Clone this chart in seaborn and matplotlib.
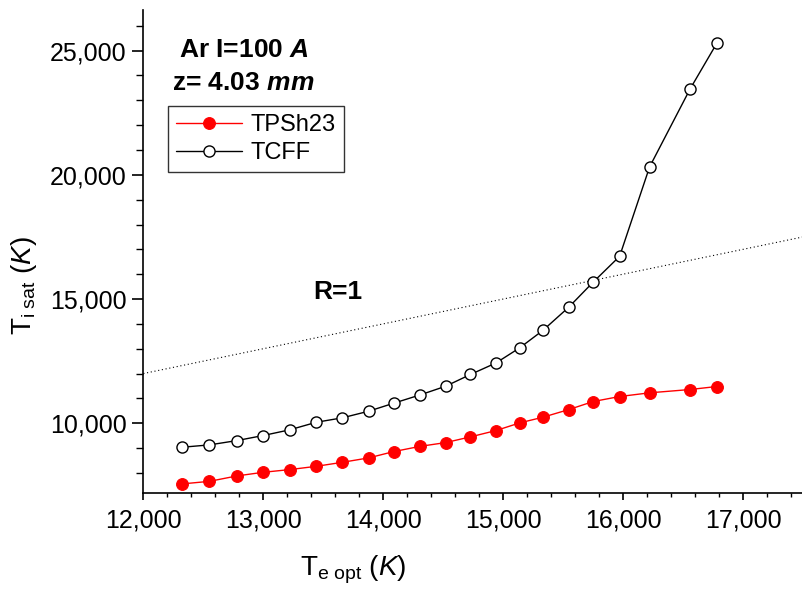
import numpy as np
import pandas as pd
import matplotlib
matplotlib.use("Agg")
import matplotlib.pyplot as plt
import seaborn as sns
from matplotlib.ticker import FuncFormatter, MultipleLocator

# data
t_e_opt = [12320, 12551, 12780, 12997, 13219, 13442, 13659, 13878, 14087, 14310,
           14521, 14727, 14940, 15139, 15331, 15548, 15751, 15971, 16221, 16558, 16781]
t_tpsh23 = [7557, 7662, 7880, 8025, 8134, 8267, 8428, 8605, 8859, 9073,
            9222, 9452, 9706, 10016, 10242, 10552, 10875, 11076, 11225, 11358, 11479]
t_tcff = [9033, 9129, 9303, 9504, 9734, 10040, 10218, 10484, 10806, 11145,
          11491, 11963, 12426, 13039, 13736, 14676, 15683, 16719, 20318, 23450, 25292]
r1_line = [12000, 17500]  # R=1 -> T_i = T_e

sns.set_theme(style="ticks")
plt.rcParams['font.family'] = ['Liberation Sans', 'DejaVu Sans']
plt.rcParams['mathtext.fontset'] = 'custom'
plt.rcParams['mathtext.rm'] = 'Liberation Sans'
plt.rcParams['mathtext.it'] = 'Liberation Sans:italic'
plt.rcParams['mathtext.bf'] = 'Liberation Sans:bold'
plt.rcParams['mathtext.bfit'] = 'Liberation Sans:bold:italic'
for key in ['text.color', 'axes.labelcolor', 'xtick.color', 'ytick.color']:
    plt.rcParams[key] = 'black'

fig = plt.figure(figsize=(8.03, 5.94), dpi=100)
ax = fig.add_axes([0.1785, 0.1695, 0.8215, 0.8135])

# R=1 reference line
sns.lineplot(x=r1_line, y=r1_line, ax=ax, color="black", linewidth=0.8,
             linestyle=(0, (1, 2.4)), legend=False)

sns.lineplot(x=t_e_opt, y=t_tpsh23, ax=ax, color="#ff0000", linewidth=1.0,
             marker="o", markersize=8.5, markerfacecolor="#ff0000",
             markeredgecolor="#ff0000", label="TPSh23")
sns.lineplot(x=t_e_opt, y=t_tcff, ax=ax, color="black", linewidth=1.0,
             marker="o", markersize=8, markerfacecolor="white",
             markeredgecolor="black", markeredgewidth=1.0, label="TCFF")

ax.set_xlim(12000, 17500)
ax.set_ylim(7180, 26630)

fmt = FuncFormatter(lambda v, p: f"{v:,.0f}")
ax.xaxis.set_major_locator(MultipleLocator(1000))
ax.xaxis.set_minor_locator(MultipleLocator(200))
ax.yaxis.set_major_locator(MultipleLocator(5000))
ax.yaxis.set_minor_locator(MultipleLocator(1000))
ax.xaxis.set_major_formatter(fmt)
ax.yaxis.set_major_formatter(fmt)

for side in ["top", "right"]:
    ax.spines[side].set_visible(False)
for side in ["left", "bottom"]:
    ax.spines[side].set_linewidth(1.2)
    ax.spines[side].set_color("black")

ax.tick_params(axis="x", which="major", length=5, width=1.2, labelsize=18, pad=6, color="black")
ax.tick_params(axis="x", which="minor", length=3, width=1.0, color="black")
ax.tick_params(axis="y", which="major", length=8, width=1.2, labelsize=18, pad=4, color="black")
ax.tick_params(axis="y", which="minor", length=5, width=1.0, color="black")

ax.set_xlabel(r"T$_{\mathrm{e\ opt}}$ ($\mathit{K}$)", fontsize=20)
ax.set_ylabel(r"T$_{\mathrm{i\ sat}}$ ($\mathit{K}$)", fontsize=20)
ax.xaxis.set_label_coords(0.318, -0.125)
ax.yaxis.set_label_coords(-0.158, 0.43)

ax.text(0.0536, 0.9027, r"Ar I=100 $\mathbfit{A}$", transform=ax.transAxes,
        fontsize=19, fontweight="bold", va="baseline", ha="left")
ax.text(0.0428, 0.8345, r"z= 4.03 $\mathbfit{mm}$", transform=ax.transAxes,
        fontsize=19, fontweight="bold", va="baseline", ha="left")
ax.text(0.257, 0.402, "R=1", transform=ax.transAxes,
        fontsize=19, fontweight="bold", va="baseline", ha="left")

leg = ax.legend(loc="upper left", bbox_to_anchor=(0.037, 0.8014), borderaxespad=0,
                fontsize=17, frameon=True, fancybox=False, handlelength=2.8,
                handletextpad=0.35, labelspacing=0.25, borderpad=0.35)
leg.get_frame().set_edgecolor("black")
leg.get_frame().set_linewidth(1.0)

plt.savefig("out.png", dpi=100)
plt.close()
